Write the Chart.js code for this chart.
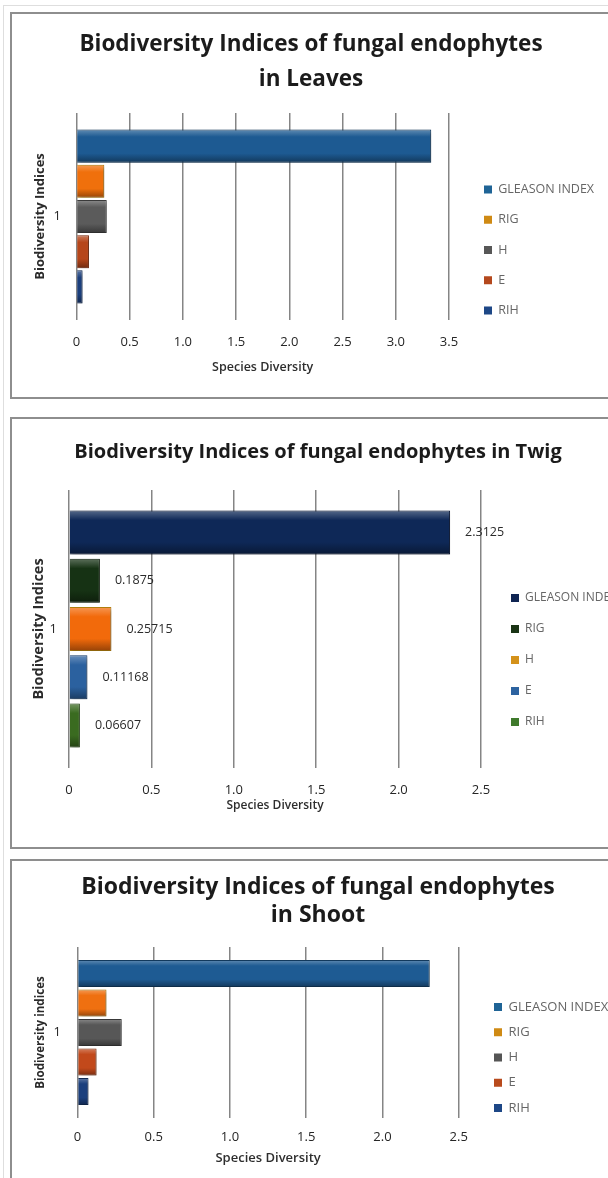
<!DOCTYPE html>
<html>
<head>
<meta charset="utf-8">
<title>Biodiversity Indices of fungal endophytes</title>
<script src="https://cdn.jsdelivr.net/npm/chart.js@4.4.1/dist/chart.umd.min.js"></script>
<style>
  html, body { margin: 0; padding: 0; background: #ffffff; }
  body { width: 608px; height: 1178px; overflow: hidden; position: relative; }
  .frame { position: absolute; left: 3px; top: 5px; width: 640px; height: 1200px;
           border-left: 1px solid #dedede; border-top: 1px solid #dedede; }
  .panel { position: absolute; left: 10px; border: 2px solid #8e8e8e; background: #ffffff; }
  .panel canvas { display: block; }
</style>
</head>
<body>
<div class="frame"></div>
<div class="panel" style="top:12px"><canvas id="leaves" width="598" height="383"></canvas></div>
<div class="panel" style="top:417px"><canvas id="twig" width="612" height="428"></canvas></div>
<div class="panel" style="top:859px"><canvas id="shoot" width="612" height="318"></canvas></div>
<script>
// ---- data ----
const CATEGORIES = ['1'];
const INDEX_NAMES = ['GLEASON INDEX', 'RIG', 'H', 'E', 'RIH'];
const LEAVES_VALUES = [3.333, 0.262, 0.285, 0.118, 0.058];
const TWIG_VALUES = [2.3125, 0.1875, 0.25715, 0.11168, 0.06607];
const SHOOT_VALUES = [2.31, 0.19, 0.29, 0.125, 0.072];
const LEAVES_AXIS_MAX = 3.5;
const TWIG_AXIS_MAX = 2.5;
const SHOOT_AXIS_MAX = 2.5;
const TICK_STEP = 0.5;

// ---- styling helpers ----
const FONT = "'Open Sans', 'DejaVu Sans', sans-serif";

function hexToRgb(hex) {
  const h = hex.replace('#', '');
  return [0, 2, 4].map(i => parseInt(h.substr(i, 2), 16));
}
function mix(hex, target, t) {
  return 'rgb(' + hexToRgb(hex).map(v => Math.round(v + (target - v) * t)).join(',') + ')';
}

// vertical shading across each bar so it reads as a rounded 3-D bar
function shadedFill(base, catPct, barPct) {
  return (c) => {
    const chart = c.chart;
    const area = chart.chartArea;
    if (!area || c.datasetIndex === undefined) return base;
    const n = chart.data.datasets.length;
    const mid = (area.top + area.bottom) / 2;
    const catH = (area.bottom - area.top) * catPct;
    const slot = catH / n;
    const center = mid - catH / 2 + slot * (c.datasetIndex + 0.5);
    const half = slot * barPct / 2;
    const g = chart.ctx.createLinearGradient(0, center - half, 0, center + half);
    g.addColorStop(0, mix(base, 255, 0.3));
    g.addColorStop(0.22, base);
    g.addColorStop(0.72, base);
    g.addColorStop(1, mix(base, 0, 0.38));
    return g;
  };
}

// drop shadow under the bars, plus optional value labels at the bar ends
const barDepth = {
  id: 'barDepth',
  beforeDatasetsDraw(chart) {
    const ctx = chart.ctx;
    ctx.save();
    ctx.shadowColor = 'rgba(0,0,0,0.38)';
    ctx.shadowBlur = 4;
    ctx.shadowOffsetX = 1.5;
    ctx.shadowOffsetY = 1.5;
  },
  afterDatasetsDraw(chart, args, opts) {
    const ctx = chart.ctx;
    ctx.restore();
    if (!opts.showValues) return;
    ctx.save();
    ctx.font = opts.fontSize + 'px ' + FONT;
    ctx.fillStyle = opts.color;
    ctx.textAlign = 'left';
    ctx.textBaseline = 'middle';
    chart.data.datasets.forEach((ds, i) => {
      chart.getDatasetMeta(i).data.forEach((el, j) => {
        ctx.fillText(String(ds.data[j]), el.x + opts.offset, el.y);
      });
    });
    ctx.restore();
  }
};

function buildChart(id, s) {
  const datasets = INDEX_NAMES.map((name, i) => ({
    label: name,
    data: [s.values[i]],
    xAxisID: 'x',
    yAxisID: 'y',
    backgroundColor: shadedFill(s.colors[i], s.catPct, s.barPct),
    borderColor: s.borders[i],
    borderWidth: 1,
    categoryPercentage: s.catPct,
    barPercentage: s.barPct
  }));

  return new Chart(document.getElementById(id), {
    type: 'bar',
    data: { labels: CATEGORIES, datasets },
    plugins: [barDepth],
    options: {
      indexAxis: 'y',
      responsive: false,
      animation: false,
      events: [],
      layout: { padding: { left: s.side, right: s.side, top: 0, bottom: s.padBottom } },
      plugins: {
        tooltip: { enabled: false },
        title: {
          display: true,
          text: s.title,
          color: '#1b1b1b',
          font: { family: FONT, size: s.titleSize, weight: 'bold', lineHeight: s.titleLine },
          padding: { top: s.titleTop, bottom: s.titleBottom }
        },
        legend: {
          position: 'right',
          maxWidth: s.legendWidth,
          title: {
            display: true,
            text: '',
            font: { size: 10, lineHeight: 1 },
            padding: { top: s.legendShift - 10, bottom: 0 }
          },
          labels: {
            boxWidth: 8,
            boxHeight: 8,
            padding: s.legendGap,
            color: '#2a2a2a',
            font: { family: FONT, size: s.legendSize },
            generateLabels: (chart) => chart.data.datasets.map((ds, i) => ({
              text: ds.label,
              fillStyle: s.legendColors[i],
              strokeStyle: s.legendColors[i],
              lineWidth: 0,
              hidden: false,
              datasetIndex: i
            }))
          }
        },
        barDepth: s.valueLabels
      },
      scales: {
        x: {
          type: 'linear',
          min: 0,
          max: s.axisMax,
          ticks: { stepSize: TICK_STEP, padding: s.xTickPad, color: '#262626',
                   font: { family: FONT, size: 13, lineHeight: 1.2 } },
          grid: { color: '#858585', lineWidth: 1.5, drawTicks: false },
          border: { display: false },
          title: {
            display: true,
            text: 'Species Diversity',
            color: '#2e2e2e',
            font: { family: FONT, size: s.xTitleSize, weight: '600', lineHeight: 1.2 },
            padding: { top: 0, bottom: 0 }
          },
          afterFit: (scale) => { scale.height = s.xHeight; }
        },
        y: {
          type: 'category',
          ticks: { padding: s.yTickPad, color: '#262626', font: { family: FONT, size: 13 } },
          grid: { display: false, drawTicks: false },
          border: { display: false },
          title: {
            display: true,
            text: s.yTitle,
            color: '#2b2b2b',
            font: { family: FONT, size: s.yTitleSize, weight: 'bold', lineHeight: 1.2 },
            padding: { top: s.yTitlePad, bottom: 0 }
          },
          afterFit: (scale) => { scale.width = s.yWidth; }
        },
        spacer: {
          type: 'linear',
          position: 'right',
          display: true,
          grid: { display: false, drawTicks: false },
          border: { display: false },
          ticks: { display: false },
          afterFit: (scale) => { scale.width = s.spacer; }
        }
      }
    }
  });
}

// ---- Leaves ----
buildChart('leaves', {
  values: LEAVES_VALUES,
  axisMax: LEAVES_AXIS_MAX,
  colors: ['#1d5a92', '#f0700c', '#5b5b5b', '#b6461a', '#1b3f7d'],
  borders: ['#143f66', '#c8880c', '#3f3f3f', '#8a3312', '#122c58'],
  legendColors: ['#1f6496', '#cf8a14', '#575757', '#b4481d', '#1d4786'],
  title: ['Biodiversity Indices of fungal endophytes', 'in Leaves'],
  titleSize: 22.5, titleLine: 35 / 22.5, titleTop: 13.5, titleBottom: 15.5,
  yTitle: 'Biodiversity Indices', yTitleSize: 13, yTitlePad: 10.9, yWidth: 54.4, yTickPad: 15.4,
  xTitleSize: 12.5, xHeight: 54.5, xTickPad: 14.2,
  side: 10, padBottom: 22.5, spacer: 17.2,
  legendWidth: 133.8, legendGap: 17.8, legendSize: 12.5, legendShift: 111.5,
  catPct: 0.85, barPct: 0.94,
  valueLabels: { showValues: false }
});

// ---- Twig ----
buildChart('twig', {
  values: TWIG_VALUES,
  axisMax: TWIG_AXIS_MAX,
  colors: ['#0e2857', '#163214', '#f26a0b', '#2b619f', '#3a6b20'],
  borders: ['#08183a', '#0e200c', '#b8820e', '#1d4475', '#284c16'],
  legendColors: ['#0f2452', '#1a3415', '#d4921a', '#2d63a0', '#3f7a2c'],
  title: 'Biodiversity Indices of fungal endophytes in Twig',
  titleSize: 20, titleLine: 1.2, titleTop: 21, titleBottom: 26,
  yTitle: 'Biodiversity Indices', yTitleSize: 14.5, yTitlePad: 8.3, yWidth: 47, yTickPad: 12,
  xTitleSize: 12, xHeight: 45.2, xTickPad: 14.2,
  side: 10, padBottom: 33.8, spacer: 11,
  legendWidth: 122, legendGap: 19, legendSize: 12, legendShift: 87.8,
  catPct: 0.868, barPct: 0.91,
  valueLabels: { showValues: true, offset: 15, fontSize: 12.5, color: '#2a2a2a' }
});

// ---- Shoot ----
buildChart('shoot', {
  values: SHOOT_VALUES,
  axisMax: SHOOT_AXIS_MAX,
  colors: ['#1e5b93', '#ef7010', '#575757', '#c2491b', '#1b3f7d'],
  borders: ['#143f66', '#c8880c', '#3d3d3d', '#8e3412', '#122c58'],
  legendColors: ['#1f6496', '#cf8a14', '#555555', '#b84a1c', '#1d4786'],
  title: ['Biodiversity Indices of fungal endophytes', 'in Shoot'],
  titleSize: 23, titleLine: 28 / 23, titleTop: 12, titleBottom: 18,
  yTitle: 'Biodiversity indices', yTitleSize: 11.6, yTitlePad: 8, yWidth: 51.5, yTickPad: 16.5,
  xTitleSize: 13, xHeight: 47.8, xTickPad: 11.2,
  side: 14, padBottom: 13.2, spacer: 23.05,
  legendWidth: 128.25, legendGap: 12.25, legendSize: 13, legendShift: 88.2,
  catPct: 0.863, barPct: 0.92,
  valueLabels: { showValues: false }
});
</script>
</body>
</html>
